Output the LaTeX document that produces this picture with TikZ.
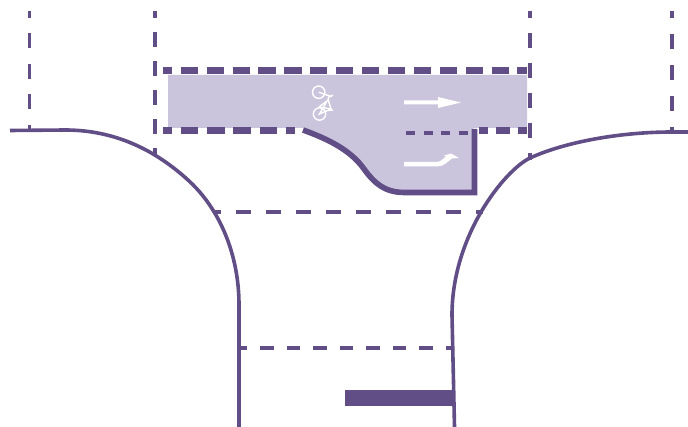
\documentclass[tikz,border=0pt]{standalone}
\usepackage{xcolor}
\usetikzlibrary{arrows.meta}
\definecolor{mPurple}{RGB}{98,78,134}
\definecolor{mLilac}{RGB}{202,197,221}
\tikzset{
  kerb/.style={draw=mPurple, line width=3.6pt},
  kerbthick/.style={draw=mPurple, line width=5.6pt},
  roadedge/.style={draw=mPurple, line width=3.8pt},
  stopline/.style={draw=mPurple, line width=3.6pt},
  laneedge/.style={draw=mPurple, line width=7pt},
  bikeline/.style={draw=white, line width=1.4pt},
}
\begin{document}
\begin{tikzpicture}[x=1pt,y=-1pt]
  \useasboundingbox (0,0) rectangle (688,427);

  % lane surface
  \fill[mLilac] (168,75) -- (527,75) -- (527,128) -- (473,128) -- (473,191) -- (405,191)
    .. controls (385,191) and (375,180) .. (365,167)
    .. controls (350,147) and (325,136) .. (303,128) -- (168,128) -- cycle;

  % side road edges, dashed
  \draw[roadedge, dash pattern=on 15pt off 15.5pt, dash phase=8pt] (29.5,11) -- (29.5,130);
  \draw[roadedge, dash pattern=on 14.5pt off 14.5pt, dash phase=7.5pt] (155,11) -- (155,155);
  \draw[roadedge, dash pattern=on 15pt off 15pt, dash phase=8pt] (530,11) -- (530,160);
  \draw[roadedge, dash pattern=on 15pt off 16pt, dash phase=8pt] (672,11) -- (672,132);

  % kerbs
  \draw[kerb] (10,130.5) -- (65,130)
    .. controls (115,130) and (155,150) .. (188,180)
    .. controls (220,209) and (239,255) .. (239,305) -- (239,427);
  \draw[kerb] (688,132) -- (672,132)
    .. controls (620,132) and (565,142) .. (530,158)
    .. controls (505,170) and (452,235) .. (452,315) -- (454.5,427);

  % cycle lane
  \draw[laneedge, dash pattern=on 17.2pt off 8.7pt, dash phase=8.2pt] (163,71) -- (527,71);
  \draw[laneedge, dash pattern=on 17.6pt off 8.7pt, dash phase=8.6pt] (163,131) -- (295,131);
  \draw[laneedge, dash pattern=on 14pt off 8pt, dash phase=5pt] (479,131) -- (527,131);
  \draw[mPurple, line width=3.4pt, dash pattern=on 9pt off 8.6pt] (406,133) -- (472,133);
  \draw[kerbthick] (303,130)
    .. controls (325,138) and (350,149) .. (364,169)
    .. controls (375,184) and (385,192.5) .. (405,192.5) -- (474.5,192.5) -- (474.5,129);

  % stop lines
  \draw[stopline, dash pattern=on 15pt off 15pt, dash phase=7pt] (213,212) -- (483,212);
  \draw[stopline, dash pattern=on 13.5pt off 13pt, dash phase=6.5pt] (240,348) -- (452,348);
  \fill[mPurple] (345,390) rectangle (455,406);

  % lane arrows
  \fill[white] (404,100.5) -- (438,100.5) -- (438,97) -- (461,102.5) -- (438,108) -- (438,104.5) -- (404,104.5) -- cycle;
  \fill[white] (404,162) -- (436,162)
    .. controls (441,162) and (443,159) .. (446,156)
    -- (443,156) -- (451,153.5) -- (459,158) -- (452,158.5)
    .. controls (447,162) and (444,166.5) .. (437,166.5) -- (404,166.5) -- cycle;

  % bicycle
  \draw[bikeline] (318.7,92.2) circle (6.2);
  \draw[bikeline] (319.5,114) circle (6.2);
  \draw[bikeline] (318.7,92.2) -- (331,96.5) -- (333,95);
  \draw[bikeline] (330,95) -- (328,99) -- (331,109) -- (319.5,114) -- (327,101) -- (319,107);
  \draw[bikeline] (319,107) -- (331,109);
  \draw[bikeline] (328,110.5) -- (333,110);
\end{tikzpicture}
\end{document}
